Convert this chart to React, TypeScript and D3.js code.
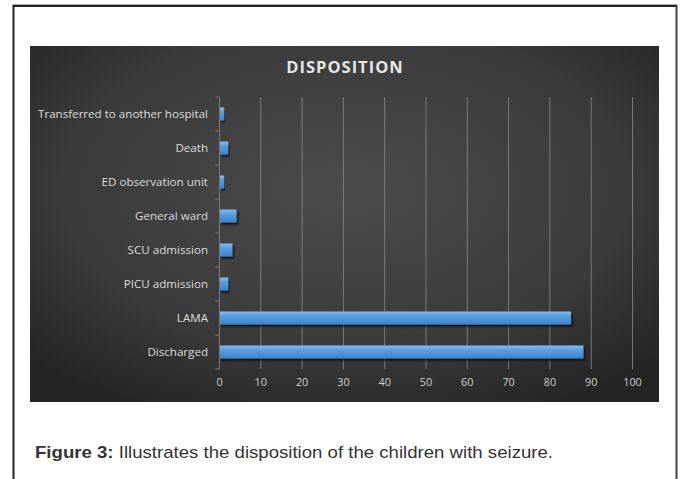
import React from "react";
import * as d3 from "d3";

const categories = [
  "Transferred to another hospital",
  "Death",
  "ED observation unit",
  "General ward",
  "SCU admission",
  "PICU admission",
  "LAMA",
  "Discharged",
];
const values = [1, 2, 1, 4, 3, 2, 85, 88];
const xTicks = [0, 10, 20, 30, 40, 50, 60, 70, 80, 90, 100];
const chartTitle = "DISPOSITION";
const captionBold = "Figure 3:";
const captionRest = " Illustrates the disposition of the children with seizure.";

export default function App() {
  const W = 681, H = 479;
  const panel = { x: 30, y: 46, w: 629, h: 356 };
  const plot = { left: 219.5, right: 632.5, top: 97, bottom: 369 };
  const x = d3.scaleLinear().domain([0, 100]).range([plot.left, plot.right]);
  const y = d3.scaleBand<string>().domain(categories).range([plot.top, plot.bottom]).paddingInner(0).paddingOuter(0);
  const barH = 13;
  const labelFont = "'Open Sans', 'DejaVu Sans', sans-serif";

  return (
    <svg width={W} height={H} style={{ position: "absolute", left: 0, top: 0, background: "#fff" }}>
      <defs>
        <radialGradient id="bg" cx="50%" cy="40%" r="70%">
          <stop offset="0%" stopColor="#4b4b4b" />
          <stop offset="65%" stopColor="#3a3a3a" />
          <stop offset="100%" stopColor="#242424" />
        </radialGradient>
        <linearGradient id="bar" x1="0" y1="0" x2="0" y2="1">
          <stop offset="0%" stopColor="#86bbee" />
          <stop offset="35%" stopColor="#5a9fe2" />
          <stop offset="100%" stopColor="#3d82cd" />
        </linearGradient>
        <filter id="sh" x="-10%" y="-30%" width="130%" height="180%">
          <feDropShadow dx="1.5" dy="2" stdDeviation="1" floodColor="#000" floodOpacity="0.75" />
        </filter>
      </defs>
      {/* outer frame */}
      <line x1={13} y1={4.5} x2={677} y2={4.5} stroke="#aaa" strokeWidth={1} />
      <line x1={13} y1={6} x2={677} y2={6} stroke="#222" strokeWidth={2} />
      <line x1={13.5} y1={5} x2={13.5} y2={H} stroke="#222" strokeWidth={2} />
      <line x1={676.5} y1={5} x2={676.5} y2={H} stroke="#444" strokeWidth={2} />

      {/* chart panel */}
      <rect x={panel.x} y={panel.y} width={panel.w} height={panel.h} fill="url(#bg)" />
      <text x={345} y={73} textAnchor="middle" fill="#e6e6e6" fontSize={16.5} fontWeight="bold"
        fontFamily={labelFont} letterSpacing={1}>{chartTitle}</text>

      {/* grid lines */}
      {xTicks.filter(t => t > 0).map(t => (
        <line key={t} x1={x(t)} x2={x(t)} y1={plot.top} y2={plot.bottom} stroke="#8a8a8a" strokeWidth={0.8} />
      ))}
      {/* y axis */}
      <line x1={x(0)} x2={x(0)} y1={plot.top} y2={plot.bottom} stroke="#8a8a8a" strokeWidth={0.8} />
      {d3.range(categories.length + 1).map(i => {
        const yy = plot.top + i * y.step();
        return <line key={i} x1={x(0) - 4} x2={x(0)} y1={yy} y2={yy} stroke="#8a8a8a" strokeWidth={0.8} />;
      })}

      {/* bars */}
      {categories.map((c, i) => {
        const cy = (y(c) as number) + y.bandwidth() / 2;
        return (
          <rect key={c} x={x(0) + 0.5} y={cy - barH / 2} width={x(values[i]) - x(0)} height={barH}
            fill="url(#bar)" filter="url(#sh)" />
        );
      })}

      {/* category labels */}
      {categories.map(c => (
        <text key={c} x={208} y={(y(c) as number) + y.bandwidth() / 2} dy="0.35em" textAnchor="end"
          fill="#dcdcdc" fontSize={11.6} fontFamily={labelFont}>{c}</text>
      ))}

      {/* x tick labels */}
      {xTicks.map(t => (
        <text key={t} x={x(t)} y={386} textAnchor="middle" fill="#cfcfcf" fontSize={10.8} fontFamily={labelFont}>{t}</text>
      ))}

      {/* caption */}
      <text x={35} y={458} fontSize={17} fill="#333" fontFamily="'Liberation Sans Narrow', 'Liberation Sans', Arial, sans-serif"
        textLength={518} lengthAdjust="spacingAndGlyphs">
        <tspan fontWeight="bold">{captionBold}</tspan>
        <tspan>{captionRest}</tspan>
      </text>
    </svg>
  );
}
